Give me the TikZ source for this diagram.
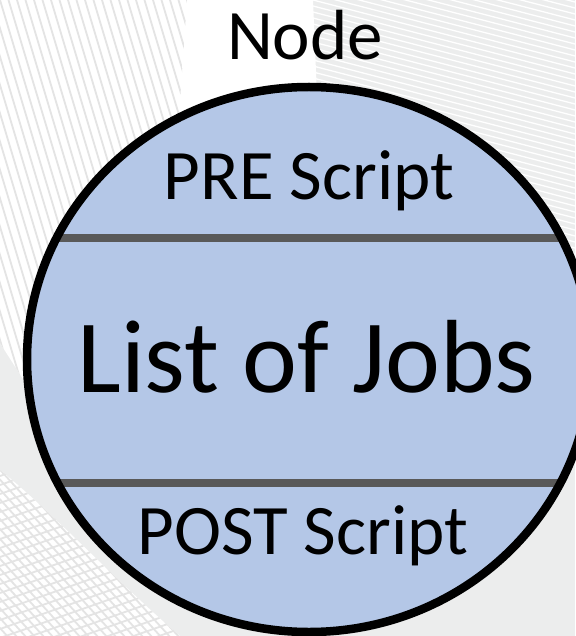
\documentclass[tikz,border=0pt]{standalone}
\usepackage{fontspec}
\setmainfont{Carlito}
\definecolor{bgGray}{HTML}{ECEDED}
\definecolor{jobFill}{HTML}{B4C7E7}
\definecolor{divider}{HTML}{595959}
\definecolor{stripe}{HTML}{E4E4E4}
\begin{document}
\begin{tikzpicture}[x=1pt,y=-1pt,
  lbl/.style={anchor=base,inner sep=0pt,text=black},
  smalltext/.style={lbl,font=\fontsize{71}{80}\selectfont},
  bigtext/.style={lbl,font=\fontsize{104}{115}\selectfont},
  darkstripe/.style={stripe,line width=1.8pt},
  lightstripe/.style={white,line width=1.3pt},
  dividerline/.style={divider,line width=8pt},
  rim/.style={black,line width=8.5pt}]
\useasboundingbox (0,0) rectangle (575,636);

% textured backdrop
\fill[bgGray] (0,0) rectangle (575,636);
\fill[white] (0,0) -- (313,0) -- (317,95) -- (200,260) -- (60,440) -- (30,390) -- (0,343) -- cycle;
\begin{scope}
  \clip (0,0) -- (187,0) -- (178,130) -- (60,440) -- (30,390) -- (0,343) -- cycle;
  \foreach \i in {-50,...,25} \draw[darkstripe] (\i*8.5,0) -- ++(135,450);
\end{scope}
\fill[white] (0,470) .. controls (50,510) and (120,585) .. (180,636) -- (0,636) -- cycle;
\begin{scope}
  \clip (0,470) .. controls (50,510) and (120,585) .. (180,636) -- (0,636) -- cycle;
  \foreach \i in {-30,...,25} \draw[darkstripe] (\i*9,440) -- ++(200,220);
  \foreach \i in {0,...,40} \draw[darkstripe] (0,440+\i*9) -- ++(250,-88);
\end{scope}
\begin{scope}
  \clip (313,0) rectangle (575,300);
  \foreach \i in {-45,...,50} \draw[lightstripe] (313,\i*6) -- ++(262,68);
\end{scope}

% the node body with its three sections
\fill[jobFill] (309,359.5) ellipse [x radius=282pt, y radius=272.5pt];
\begin{scope}
  \clip (309,359.5) ellipse [x radius=282pt, y radius=272.5pt];
  \coordinate (preL) at (0,238);  \coordinate (preR) at (575,238);
  \coordinate (postL) at (0,483); \coordinate (postR) at (575,483);
  \draw[dividerline] (preL) -- (preR);
  \draw[dividerline] (postL) -- (postR);
\end{scope}
\draw[rim] (309,359.5) ellipse [x radius=282pt, y radius=272.5pt];

% labels
\node[smalltext] (title) at (305,60) {Node};
\node[smalltext] (pre) at (309,200) {PRE Script};
\node[bigtext] (jobs) at (306.5,392) {List of Jobs};
\node[smalltext] (post) at (303,554) {POST Script};
\end{tikzpicture}
\end{document}
